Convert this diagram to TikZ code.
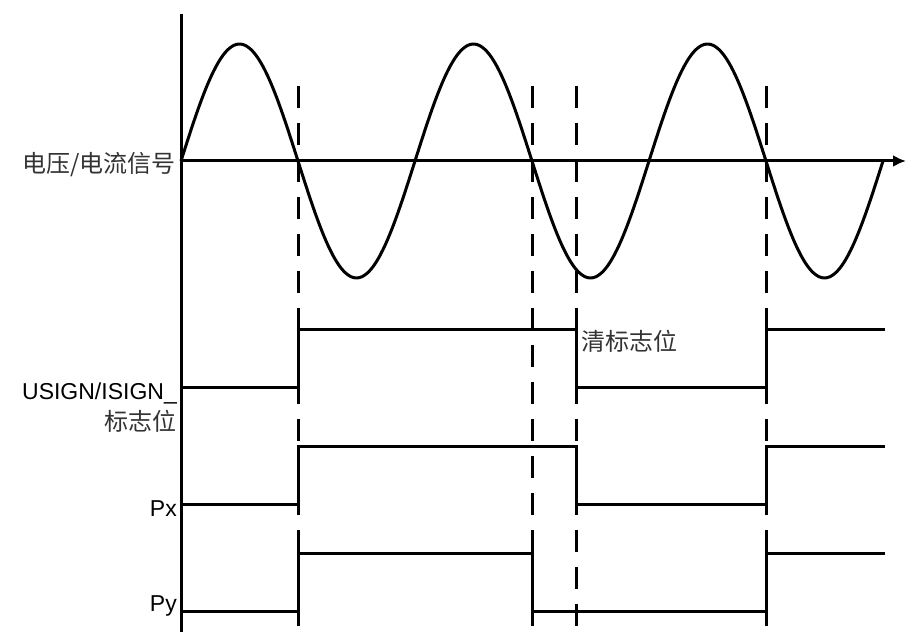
\documentclass[tikz,border=0pt]{standalone}
\usepackage{fontspec}
\setmainfont{Liberation Sans}
\newfontfamily\cjk{Noto Sans CJK SC}
\usetikzlibrary{arrows.meta,positioning,calc}

\begin{document}
\begin{tikzpicture}[
  x=1pt, y=1pt,
  font=\fontsize{23}{26}\selectfont,
  >={Latex[length=13pt,width=12pt]},
  axis/.style={line width=3pt},
  wave/.style={line width=3pt, line join=round},
  sig/.style={line width=3pt, line join=miter},
  guide/.style={line width=3pt, dash pattern=on 22pt off 15pt},
  lbl/.style={anchor=base east, inner sep=0pt},
  cjklbl/.style={lbl, text=black!80, font=\cjk\fontsize{24}{27}\selectfont}
]
  \useasboundingbox (0,0) rectangle (906,632);

  % Axes
  \coordinate (o) at (181,471);
  \coordinate (top) at (181,618);
  \coordinate (bot) at (181,0);
  \coordinate (tend) at (906,471);
  \draw[axis] (bot) -- (top);
  \draw[axis, ->] (o) -- (tend);

  % Voltage / current signal, three periods
  \draw[wave] plot[domain=0:1080, samples=241, smooth]
    ({181+\x*0.65}, {471+117*sin(\x)});
  \node[cjklbl] (vi) at (176,459) {电压/电流信号};

  % Guide lines at the switching instants
  \foreach \t/\n in {298/a, 532/b, 576/c, 766/d} {
    \coordinate (g\n) at (\t,546);
    \draw[guide] (g\n) -- (\t,2);
  }

  % USIGN/ISIGN flag
  \draw[sig] (181,244) -- (298,244) -- (298,302) -- (576,302)
    -- (576,244) -- (766,244) -- (766,302) -- (885,302);
  \node[lbl] (usign) at (177,232) {USIGN/ISIGN\_};
  \node[cjklbl, below=5pt of usign.south east, anchor=north east] (flag) {标志位};
  \node[cjklbl, anchor=base west] (clr) at (581,281) {清标志位};

  % Px
  \draw[sig] (181,127) -- (298,127) -- (298,185) -- (576,185)
    -- (576,127) -- (766,127) -- (766,185) -- (885,185);
  \node[lbl] (px) at (177,115) {Px};

  % Py
  \draw[sig] (181,20) -- (298,20) -- (298,78) -- (532,78)
    -- (532,20) -- (766,20) -- (766,78) -- (885,78);
  \node[lbl] (py) at (177,20) {Py};
\end{tikzpicture}
\end{document}
